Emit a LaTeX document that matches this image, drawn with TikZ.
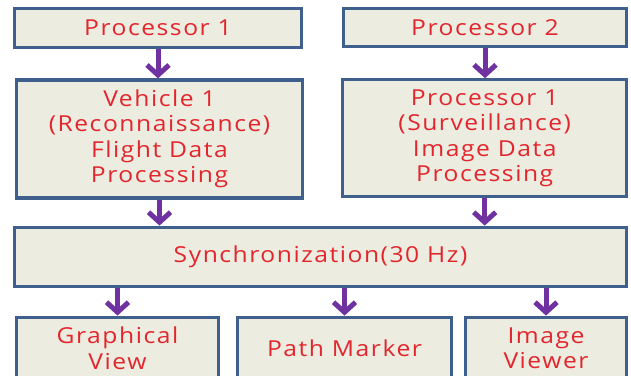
\documentclass[tikz,border=0pt]{standalone}
\usepackage{fontspec}
\usetikzlibrary{arrows.meta}
\newfontfamily\boxfont[FakeStretch=1.12,LetterSpace=7]{Open Sans}
\definecolor{boxfill}{HTML}{ECECE0}
\definecolor{boxline}{HTML}{3F5F8C}
\definecolor{boxtext}{HTML}{E3262E}
\definecolor{flowcol}{HTML}{7032A0}
\begin{document}
\begin{tikzpicture}[x=1bp,y=1bp,>={Straight Barb[length=10bp,width=22bp]},line join=miter,
  box/.style={draw=boxline,line width=3.2bp,fill=boxfill,text=boxtext,align=center,inner sep=0pt,
    font=\boxfont\fontsize{22bp}{25.5bp}\selectfont},
  flow/.style={flowcol,line width=5bp,->}]
%%
\useasboundingbox (0,0) rectangle (631,375);
\clip (0,0) rectangle (631,375);
\node (node_proc1) at (158,347) [box,minimum width=287bp,minimum height=39bp] {Processor 1};
  \node (node_proc2) at (485,347.5) [box,minimum width=283bp,minimum height=38bp] {Processor 2};
  \node (node_vehicle) at (159.5,236) [box,minimum width=286bp,minimum height=118bp] {Vehicle 1\\(Reconnaissance)\\Flight Data\\Processing};
  \node (node_surv) at (484.7,236.7) [box,minimum width=284bp,minimum height=117bp] {Processor 1\\(Surveillance)\\Image Data\\Processing};
  \node (node_sync) at (320.5,118.3) [box,minimum width=612bp,minimum height=59bp] {Synchronization(30 Hz)};
  \node (node_graph) at (117.5,26.8) [box,minimum width=202bp,minimum height=62bp] {Graphical\\View};
  \node (node_path) at (344.5,26.8) [box,minimum width=214bp,minimum height=62bp] {Path Marker};
  \node (node_image) at (546,26.8) [box,minimum width=161bp,minimum height=62bp] {Image\\Viewer};
%
  \draw [flow] (node_proc1.south) -- (node_proc1.south |- node_vehicle.north);
  \draw [flow] (node_proc2.south) -- (node_proc2.south |- node_surv.north);
  \draw [flow] (node_vehicle.south) -- (node_vehicle.south |- node_sync.north);
  \draw [flow] (node_surv.south) -- (node_surv.south |- node_sync.north);
  \draw [flow] (node_sync.south -| node_graph.north) -- (node_graph.north);
  \draw [flow] (node_sync.south -| node_path.north) -- (node_path.north);
  \draw [flow] (node_sync.south -| node_image.north) -- (node_image.north);
%
\end{tikzpicture}
\end{document}
